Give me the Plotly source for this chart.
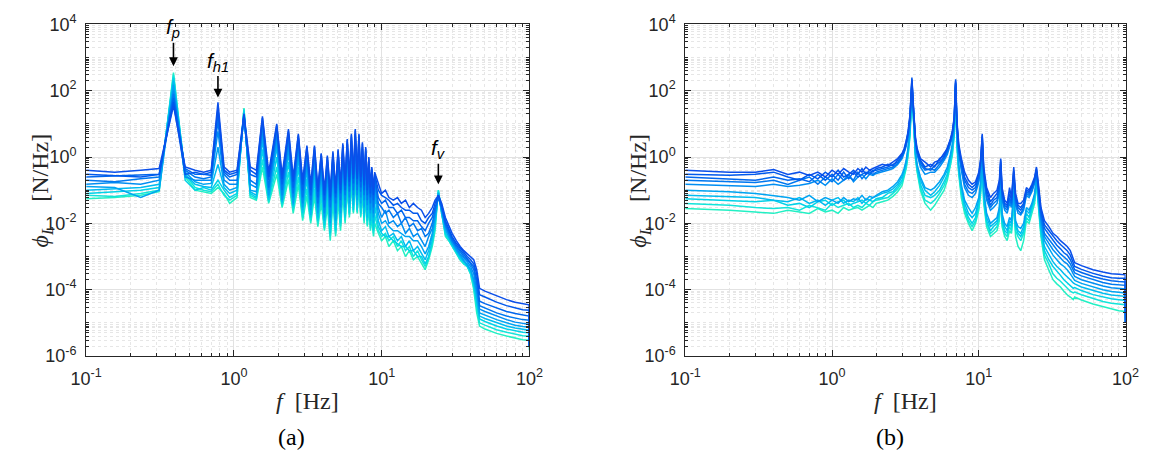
import math
import plotly.graph_objects as go

# ---------------- Panel (a) data ----------------
freq_a = [0.1, 0.156, 0.234, 0.312,
          0.39, 0.468, 0.546, 0.624, 0.702,
          0.78, 0.858, 0.936, 1.05,
          1.17, 1.29, 1.42, 1.56, 1.72, 1.95, 2.12, 2.34, 2.52, 2.73, 2.92, 3.12, 3.31, 3.51, 3.7,
          3.9, 4.1, 4.29, 4.49, 4.68, 4.88, 5.07, 5.27, 5.46, 5.66, 5.85, 6.05, 6.24, 6.44, 6.63,
          6.83, 7.02, 7.22, 7.41, 7.61, 7.8, 8.0, 8.19, 8.4, 8.58, 8.8, 8.97,
          9.5, 10.0, 10.6, 11.2, 12.0, 12.8, 13.6, 14.5, 15.4, 16.4, 17.5, 18.6, 19.7, 20.8, 22.0,
          23.0, 24.2, 25.5, 27.0, 28.5, 30.0, 32.0, 34.0, 36.0, 38.0, 40.0, 42.0, 44.0,
          46.0, 50.0, 60.0, 70.0, 80.0, 90.0, 99.5, 100.0]

psd_a0 = [0.055, 0.06, 0.07, 0.09,
          350, 0.25, 0.1, 0.09, 0.08,
          0.12, 0.08, 0.04, 0.06,
          30, 0.06, 0.05, 0.5, 0.04, 0.3, 0.03, 0.21, 0.02, 0.15, 0.012, 0.066, 0.01, 0.066, 0.008,
          0.04, 0.006, 0.033, 0.003, 0.045, 0.004, 0.05, 0.006, 0.08, 0.01, 0.1, 0.015, 0.15, 0.02,
          0.21, 0.02, 0.15, 0.015, 0.085, 0.01, 0.06, 0.008, 0.03, 0.006, 0.015, 0.004, 0.01,
          0.005, 0.003, 0.004, 0.002, 0.003, 0.0015, 0.002, 0.001, 0.0015, 0.0008, 0.001, 0.0006,
          0.0004, 0.0008, 0.002, 0.006, 0.1, 0.02, 0.004, 0.003, 0.002, 0.0012, 0.0008, 0.0006,
          0.0005, 0.0003, 0.0001, 2e-5,
          8e-6, 6.5e-6, 4.8e-6, 4e-6, 3.4e-6, 3.1e-6, 3e-6, 1.5e-6]
psd_a1 = [0.07, 0.065, 0.08, 0.1,
          300, 0.3, 0.12, 0.1, 0.09,
          0.15, 0.07, 0.05, 0.07,
          28, 0.07, 0.055, 0.85, 0.045, 0.5, 0.035, 0.35, 0.025, 0.25, 0.015, 0.11, 0.012, 0.11, 0.01,
          0.07, 0.007, 0.055, 0.004, 0.075, 0.005, 0.085, 0.008, 0.13, 0.012, 0.18, 0.018, 0.25, 0.022,
          0.35, 0.022, 0.25, 0.017, 0.14, 0.012, 0.1, 0.009, 0.05, 0.007, 0.025, 0.005, 0.018,
          0.006, 0.004, 0.005, 0.003, 0.004, 0.002, 0.003, 0.0015, 0.002, 0.001, 0.0015, 0.0008,
          0.0005, 0.0009, 0.0025, 0.008, 0.1, 0.02, 0.0045, 0.003, 0.002, 0.0013, 0.0008, 0.0006,
          0.0005, 0.0003, 0.00012, 3e-5,
          1e-5, 8.5e-6, 6.2e-6, 5.2e-6, 4.5e-6, 4.1e-6, 4e-6, 2e-6]
psd_a2 = [0.08, 0.09, 0.1, 0.12,
          250, 0.2, 0.1, 0.12, 0.1,
          0.2, 0.1, 0.06, 0.08,
          25, 0.08, 0.06, 1.7, 0.05, 1, 0.04, 0.7, 0.03, 0.5, 0.02, 0.22, 0.015, 0.22, 0.012,
          0.13, 0.009, 0.11, 0.005, 0.15, 0.006, 0.17, 0.01, 0.26, 0.015, 0.35, 0.02, 0.5, 0.025,
          0.7, 0.025, 0.5, 0.02, 0.28, 0.015, 0.2, 0.012, 0.1, 0.009, 0.05, 0.006, 0.035,
          0.008, 0.005, 0.004, 0.004, 0.003, 0.0025, 0.002, 0.002, 0.0015, 0.0015, 0.001, 0.001,
          0.0006, 0.001, 0.003, 0.01, 0.09, 0.022, 0.005, 0.0035, 0.0022, 0.0014, 0.0009, 0.0007,
          0.0005, 0.00035, 0.00015, 4e-5,
          1.3e-5, 1.1e-5, 8e-6, 6.5e-6, 5.7e-6, 5.2e-6, 5e-6, 2e-6]
psd_a3 = [0.1, 0.11, 0.12, 0.15,
          200, 0.3, 0.15, 0.13, 0.12,
          0.6, 0.12, 0.08, 0.1,
          22, 0.09, 0.07, 3.4, 0.06, 2, 0.045, 1.4, 0.035, 1, 0.025, 0.45, 0.018, 0.45, 0.015,
          0.26, 0.012, 0.22, 0.008, 0.3, 0.009, 0.35, 0.015, 0.5, 0.025, 0.7, 0.03, 1, 0.035,
          1.4, 0.035, 1, 0.03, 0.55, 0.02, 0.4, 0.015, 0.2, 0.012, 0.1, 0.01, 0.07,
          0.012, 0.006, 0.008, 0.004, 0.005, 0.003, 0.004, 0.002, 0.003, 0.0015, 0.002, 0.0012,
          0.0008, 0.0015, 0.004, 0.012, 0.08, 0.02, 0.006, 0.004, 0.0025, 0.0015, 0.001, 0.0007,
          0.0006, 0.0004, 0.00018, 5e-5,
          1.6e-5, 1.35e-5, 1e-5, 8e-6, 7e-6, 6.3e-6, 6e-6, 2e-6]
psd_a4 = [0.13, 0.12, 0.06, 0.1,
          150, 0.35, 0.18, 0.15, 0.16,
          2, 0.15, 0.1, 0.12,
          20, 0.1, 0.09, 5, 0.07, 3, 0.05, 2, 0.04, 1.5, 0.03, 0.65, 0.025, 0.65, 0.02,
          0.4, 0.015, 0.33, 0.01, 0.45, 0.012, 0.5, 0.02, 0.8, 0.03, 1, 0.04, 1.5, 0.05,
          2, 0.05, 1.5, 0.04, 0.85, 0.03, 0.6, 0.025, 0.3, 0.02, 0.15, 0.015, 0.1,
          0.02, 0.01, 0.012, 0.008, 0.006, 0.006, 0.005, 0.004, 0.004, 0.003, 0.003, 0.002,
          0.0012, 0.002, 0.005, 0.015, 0.08, 0.025, 0.007, 0.004, 0.0025, 0.0016, 0.0011, 0.0008,
          0.0006, 0.0004, 0.0002, 8e-5,
          2e-5, 1.7e-5, 1.25e-5, 1e-5, 8.5e-6, 7.8e-6, 7.5e-6, 2e-6]
psd_a5 = [0.15, 0.17, 0.15, 0.2,
          100, 0.25, 0.2, 0.2, 0.2,
          6, 0.2, 0.15, 0.15,
          18, 0.15, 0.12, 7.5, 0.1, 4.5, 0.07, 3, 0.06, 2.2, 0.04, 1, 0.035, 1, 0.03,
          0.6, 0.02, 0.5, 0.015, 0.7, 0.02, 0.75, 0.03, 1.2, 0.05, 1.6, 0.06, 2.2, 0.07,
          3, 0.07, 2.2, 0.06, 1.3, 0.05, 0.9, 0.035, 0.45, 0.025, 0.22, 0.02, 0.15,
          0.03, 0.015, 0.025, 0.01, 0.012, 0.008, 0.01, 0.005, 0.007, 0.004, 0.005, 0.003,
          0.002, 0.004, 0.007, 0.02, 0.07, 0.025, 0.008, 0.005, 0.003, 0.0018, 0.0012, 0.0009,
          0.0007, 0.0005, 0.0003, 0.0001,
          2.6e-5, 2.2e-5, 1.6e-5, 1.25e-5, 1.05e-5, 9.5e-6, 9e-6, 2e-6]
psd_a6 = [0.2, 0.18, 0.22, 0.25,
          80, 0.4, 0.25, 0.22, 0.25,
          12, 0.3, 0.2, 0.2,
          17, 0.2, 0.15, 10, 0.12, 6, 0.1, 4, 0.08, 3, 0.06, 1.3, 0.05, 1.3, 0.04,
          0.8, 0.03, 0.65, 0.03, 0.9, 0.04, 1, 0.05, 1.6, 0.07, 2.1, 0.09, 3, 0.1,
          4.2, 0.1, 3, 0.09, 1.7, 0.07, 1.2, 0.05, 0.6, 0.04, 0.3, 0.03, 0.2,
          0.04, 0.03, 0.02, 0.025, 0.015, 0.02, 0.01, 0.015, 0.008, 0.01, 0.006, 0.007,
          0.004, 0.005, 0.01, 0.025, 0.06, 0.03, 0.009, 0.005, 0.003, 0.002, 0.0014, 0.001,
          0.0008, 0.0006, 0.0004, 0.00015,
          3.3e-5, 2.8e-5, 2e-5, 1.6e-5, 1.4e-5, 1.25e-5, 1.2e-5, 2e-6]
psd_a7 = [0.25, 0.27, 0.3, 0.3,
          60, 0.45, 0.3, 0.3, 0.28,
          20, 0.35, 0.25, 0.3,
          16, 0.3, 0.25, 12, 0.2, 7.5, 0.15, 5, 0.12, 3.8, 0.1, 1.6, 0.07, 1.6, 0.06,
          1, 0.05, 0.8, 0.05, 1.1, 0.06, 1.3, 0.08, 2, 0.1, 2.6, 0.13, 3.8, 0.16,
          5, 0.15, 3.8, 0.12, 2, 0.1, 1.5, 0.07, 0.75, 0.06, 0.4, 0.05, 0.25,
          0.06, 0.04, 0.05, 0.03, 0.03, 0.02, 0.025, 0.015, 0.015, 0.012, 0.012, 0.008,
          0.006, 0.01, 0.015, 0.03, 0.06, 0.03, 0.01, 0.006, 0.0035, 0.0022, 0.0016, 0.0012,
          0.0009, 0.0007, 0.0005, 0.0002,
          4.5e-5, 3.8e-5, 2.8e-5, 2.2e-5, 1.9e-5, 1.7e-5, 1.6e-5, 2e-6]
psd_a8 = [0.3, 0.28, 0.25, 0.3,
          45, 0.3, 0.35, 0.3, 0.35,
          30, 0.4, 0.3, 0.35,
          18, 0.4, 0.3, 15, 0.25, 9, 0.22, 6, 0.18, 4.5, 0.15, 2, 0.1, 2, 0.09,
          1.2, 0.07, 1, 0.06, 1.3, 0.08, 1.5, 0.1, 2.3, 0.14, 3.2, 0.18, 4.5, 0.22,
          6.3, 0.22, 4.5, 0.18, 2.5, 0.14, 1.8, 0.1, 0.9, 0.08, 0.45, 0.07, 0.3,
          0.1, 0.07, 0.06, 0.05, 0.035, 0.04, 0.03, 0.025, 0.025, 0.02, 0.02, 0.012,
          0.01, 0.015, 0.02, 0.04, 0.07, 0.035, 0.012, 0.007, 0.004, 0.0025, 0.0018, 0.0013,
          0.001, 0.0008, 0.0006, 0.0003,
          7e-5, 6e-5, 4.2e-5, 3.3e-5, 2.8e-5, 2.5e-5, 2.4e-5, 2e-6]
psd_a9 = [0.4, 0.35, 0.4, 0.45,
          35, 0.5, 0.4, 0.35, 0.4,
          45, 0.5, 0.35, 0.4,
          20, 0.5, 0.4, 17, 0.35, 10, 0.3, 7, 0.25, 5, 0.2, 2.2, 0.15, 2.2, 0.12,
          1.3, 0.1, 1.1, 0.1, 1.5, 0.12, 1.7, 0.15, 2.6, 0.2, 3.5, 0.25, 5, 0.3,
          7, 0.3, 5, 0.25, 2.8, 0.2, 2, 0.15, 1, 0.12, 0.5, 0.1, 0.35,
          0.15, 0.08, 0.1, 0.06, 0.05, 0.06, 0.04, 0.05, 0.03, 0.04, 0.03, 0.025,
          0.015, 0.02, 0.03, 0.05, 0.07, 0.04, 0.015, 0.008, 0.005, 0.003, 0.002, 0.0015,
          0.0012, 0.001, 0.0008, 0.0004,
          1.1e-4, 9e-5, 6.5e-5, 5e-5, 4.2e-5, 3.8e-5, 3.5e-5, 2e-6]

# ---------------- Panel (b) data ----------------
freq_b = [0.1, 0.2, 0.3, 0.4, 0.5, 0.6, 0.7, 0.8, 0.9, 1.0, 1.1, 1.2, 1.3, 1.4, 1.5, 1.6, 1.7, 1.8, 1.9, 2.0,
          2.2, 2.4, 2.6, 2.8, 3.0,
          3.1, 3.2, 3.3, 3.4, 3.5, 3.6, 3.7, 3.8,
          4.0, 4.3, 4.7, 5.0, 5.4, 5.8, 6.1, 6.4, 6.6, 6.8,
          6.95,
          7.1, 7.3, 7.6, 8.0, 8.5, 9.0, 9.5, 10.0, 10.3,
          10.55,
          10.8, 11.3, 12.0, 12.6, 13.3, 13.8,
          14.1,
          14.4, 15.0, 15.6, 16.2, 16.7,
          17.3,
          17.8, 18.5, 19.3, 20.2,
          21.1,
          22.0, 23.0, 24.0,
          24.7,
          25.5, 26.5, 28.0, 30.0, 32.0, 34.0, 36.0, 38.0, 40.0, 42.0, 44.0,
          45.0, 50.0, 60.0, 70.0, 80.0, 90.0, 99.5, 100.0]

psd_b0 = [0.028, 0.025, 0.022, 0.02, 0.025, 0.022, 0.02, 0.028, 0.022, 0.025, 0.02, 0.03, 0.025, 0.028, 0.03, 0.025, 0.03, 0.035, 0.03, 0.04,
          0.045, 0.05, 0.065, 0.09, 0.14,
          0.25, 0.45, 1.1, 4.5, 110, 6, 0.9, 0.35,
          0.1, 0.04, 0.025, 0.035, 0.06, 0.1, 0.2, 0.5, 1.1, 4.5,
          110,
          2, 0.3, 0.06, 0.02, 0.01, 0.006, 0.01, 0.025, 0.08,
          0.6,
          0.04, 0.008, 0.004, 0.005, 0.006, 0.012,
          0.08,
          0.008, 0.004, 0.003, 0.006, 0.005,
          0.04,
          0.004, 0.002, 0.0015, 0.003,
          0.012,
          0.01, 0.02, 0.04,
          0.16,
          0.03, 0.004, 0.0008, 0.0004, 0.0002, 0.00015, 0.00012, 9e-5, 7e-5, 6e-5, 5e-5,
          6e-5, 4.9e-5, 3.7e-5, 3.1e-5, 2.6e-5, 2.3e-5, 2.2e-5, 1e-5]
psd_b1 = [0.04, 0.035, 0.03, 0.028, 0.03, 0.025, 0.035, 0.03, 0.025, 0.04, 0.03, 0.035, 0.04, 0.03, 0.035, 0.03, 0.04, 0.035, 0.045, 0.05,
          0.055, 0.06, 0.08, 0.11, 0.17,
          0.3, 0.5, 1.3, 5, 120, 7, 1, 0.4,
          0.12, 0.05, 0.04, 0.05, 0.08, 0.14, 0.25, 0.6, 1.3, 5,
          120,
          2.5, 0.35, 0.08, 0.025, 0.012, 0.008, 0.012, 0.03, 0.1,
          0.8,
          0.05, 0.01, 0.005, 0.006, 0.008, 0.015,
          0.1,
          0.01, 0.005, 0.004, 0.008, 0.006,
          0.05,
          0.006, 0.004, 0.003, 0.005,
          0.015,
          0.012, 0.025, 0.05,
          0.18,
          0.035, 0.005, 0.0011, 0.0006, 0.0003, 0.00022, 0.00018, 0.00014, 0.00011, 9e-5, 8e-5,
          8.5e-5, 7e-5, 5.3e-5, 4.4e-5, 3.9e-5, 3.7e-5, 3.5e-5, 1e-5]
psd_b2 = [0.055, 0.05, 0.045, 0.05, 0.035, 0.04, 0.03, 0.045, 0.05, 0.035, 0.045, 0.05, 0.035, 0.04, 0.045, 0.05, 0.04, 0.05, 0.045, 0.055,
          0.06, 0.08, 0.09, 0.13, 0.2,
          0.35, 0.6, 1.5, 6, 130, 8, 1.2, 0.45,
          0.15, 0.07, 0.06, 0.07, 0.1, 0.18, 0.3, 0.8, 1.6, 6,
          130,
          3, 0.4, 0.1, 0.03, 0.015, 0.01, 0.015, 0.04, 0.12,
          1,
          0.06, 0.012, 0.006, 0.008, 0.01, 0.02,
          0.12,
          0.012, 0.006, 0.005, 0.01, 0.008,
          0.06,
          0.008, 0.005, 0.004, 0.006,
          0.02,
          0.015, 0.03, 0.06,
          0.2,
          0.045, 0.006, 0.0015, 0.0008, 0.0005, 0.00035, 0.00027, 0.0002, 0.00016, 0.00013, 0.00011,
          1.15e-4, 9.4e-5, 7.1e-5, 6e-5, 5.3e-5, 5e-5, 4.8e-5, 1e-5]
psd_b3 = [0.07, 0.065, 0.06, 0.05, 0.045, 0.06, 0.04, 0.05, 0.035, 0.05, 0.06, 0.04, 0.05, 0.045, 0.06, 0.04, 0.055, 0.05, 0.06, 0.065,
          0.08, 0.09, 0.11, 0.15, 0.25,
          0.4, 0.7, 1.8, 7, 140, 9, 1.3, 0.5,
          0.2, 0.1, 0.07, 0.09, 0.14, 0.25, 0.4, 1, 2, 7,
          140,
          3.5, 0.5, 0.12, 0.04, 0.02, 0.015, 0.02, 0.05, 0.15,
          1.2,
          0.08, 0.015, 0.008, 0.01, 0.012, 0.025,
          0.15,
          0.015, 0.008, 0.006, 0.012, 0.01,
          0.08,
          0.01, 0.006, 0.005, 0.008,
          0.025,
          0.02, 0.035, 0.07,
          0.22,
          0.05, 0.008, 0.002, 0.0012, 0.0007, 0.0005, 0.0004, 0.0003, 0.00025, 0.0002, 0.00016,
          1.5e-4, 1.2e-4, 9.3e-5, 7.8e-5, 6.9e-5, 6.5e-5, 6.3e-5, 1e-5]
psd_b4 = [0.1, 0.09, 0.08, 0.07, 0.06, 0.05, 0.07, 0.045, 0.06, 0.05, 0.04, 0.06, 0.045, 0.055, 0.05, 0.07, 0.05, 0.065, 0.06, 0.07,
          0.09, 0.1, 0.13, 0.18, 0.3,
          0.45, 0.8, 2, 8, 150, 10, 1.5, 0.6,
          0.25, 0.12, 0.1, 0.12, 0.18, 0.3, 0.5, 1.2, 2.5, 8,
          150,
          4, 0.6, 0.15, 0.05, 0.03, 0.02, 0.03, 0.06, 0.2,
          1.5,
          0.1, 0.02, 0.01, 0.012, 0.015, 0.03,
          0.2,
          0.02, 0.01, 0.008, 0.015, 0.012,
          0.1,
          0.012, 0.008, 0.007, 0.01,
          0.03,
          0.025, 0.04, 0.08,
          0.25,
          0.06, 0.01, 0.003, 0.0018, 0.0011, 0.0008, 0.0006, 0.0005, 0.0004, 0.0003, 0.00022,
          1.9e-4, 1.55e-4, 1.2e-4, 1e-4, 8.8e-5, 8.2e-5, 8e-5, 1e-5]
psd_b5 = [0.15, 0.14, 0.13, 0.15, 0.13, 0.14, 0.16, 0.2, 0.14, 0.22, 0.15, 0.2, 0.3, 0.18, 0.25, 0.3, 0.22, 0.3, 0.28, 0.32,
          0.35, 0.4, 0.45, 0.6, 0.9,
          1.3, 2.1, 4, 14, 160, 16, 2.8, 1.2,
          0.5, 0.3, 0.35, 0.35, 0.5, 0.8, 1.2, 2.4, 4, 12,
          160,
          7, 1.3, 0.4, 0.12, 0.07, 0.06, 0.08, 0.18, 0.5,
          3,
          0.25, 0.05, 0.025, 0.03, 0.04, 0.08,
          0.5,
          0.05, 0.025, 0.02, 0.04, 0.03,
          0.25,
          0.035, 0.02, 0.018, 0.025,
          0.07,
          0.06, 0.09, 0.16,
          0.3,
          0.08, 0.013, 0.004, 0.0025, 0.0016, 0.0012, 0.0009, 0.0007, 0.0006, 0.00045, 0.0003,
          2.5e-4, 2e-4, 1.55e-4, 1.3e-4, 1.15e-4, 1.08e-4, 1.05e-4, 1e-5]
psd_b6 = [0.2, 0.18, 0.17, 0.2, 0.15, 0.2, 0.25, 0.15, 0.25, 0.18, 0.3, 0.2, 0.25, 0.2, 0.35, 0.22, 0.3, 0.35, 0.3, 0.35,
          0.4, 0.45, 0.5, 0.65, 1,
          1.4, 2.3, 4.5, 15, 180, 18, 3, 1.3,
          0.6, 0.4, 0.45, 0.4, 0.6, 0.9, 1.4, 2.7, 4.5, 13,
          170,
          8, 1.5, 0.5, 0.15, 0.09, 0.08, 0.1, 0.2, 0.6,
          3.5,
          0.3, 0.06, 0.03, 0.04, 0.05, 0.1,
          0.6,
          0.06, 0.03, 0.025, 0.05, 0.035,
          0.3,
          0.04, 0.025, 0.02, 0.03,
          0.08,
          0.07, 0.1, 0.18,
          0.35,
          0.09, 0.016, 0.005, 0.0033, 0.0022, 0.0016, 0.0012, 0.001, 0.0008, 0.0006, 0.0004,
          3.2e-4, 2.6e-4, 2e-4, 1.65e-4, 1.45e-4, 1.4e-4, 1.35e-4, 1e-5]
psd_b7 = [0.25, 0.22, 0.2, 0.25, 0.2, 0.22, 0.18, 0.3, 0.2, 0.3, 0.2, 0.35, 0.22, 0.35, 0.25, 0.3, 0.35, 0.3, 0.4, 0.4,
          0.45, 0.5, 0.6, 0.7, 1.1,
          1.5, 2.5, 5, 16, 200, 20, 3.2, 1.4,
          0.7, 0.45, 0.4, 0.55, 0.7, 1, 1.6, 3, 5, 14,
          180,
          9, 1.8, 0.6, 0.2, 0.12, 0.1, 0.12, 0.25, 0.7,
          4,
          0.35, 0.08, 0.035, 0.05, 0.06, 0.12,
          0.7,
          0.08, 0.035, 0.03, 0.06, 0.04,
          0.35,
          0.05, 0.03, 0.025, 0.035,
          0.09,
          0.08, 0.12, 0.2,
          0.4,
          0.1, 0.02, 0.007, 0.0045, 0.003, 0.0022, 0.0017, 0.0013, 0.0011, 0.0008, 0.0005,
          4e-4, 3.3e-4, 2.5e-4, 2.1e-4, 1.85e-4, 1.75e-4, 1.7e-4, 1e-5]
psd_b8 = [0.3, 0.28, 0.3, 0.35, 0.25, 0.2, 0.3, 0.22, 0.35, 0.25, 0.4, 0.25, 0.3, 0.4, 0.3, 0.45, 0.3, 0.4, 0.35, 0.45,
          0.5, 0.6, 0.55, 0.8, 1.2,
          1.6, 2.8, 5.5, 18, 250, 22, 3.5, 1.6,
          0.8, 0.5, 0.6, 0.5, 0.9, 1.1, 2, 3.2, 5.5, 15,
          220,
          10, 2, 0.7, 0.25, 0.15, 0.12, 0.15, 0.3, 0.8,
          4.5,
          0.4, 0.1, 0.045, 0.06, 0.08, 0.15,
          0.8,
          0.1, 0.04, 0.035, 0.08, 0.05,
          0.4,
          0.06, 0.035, 0.03, 0.04,
          0.1,
          0.09, 0.13, 0.22,
          0.45,
          0.12, 0.025, 0.009, 0.006, 0.004, 0.003, 0.0023, 0.0018, 0.0015, 0.0011, 0.0007,
          5e-4, 4.1e-4, 3.1e-4, 2.6e-4, 2.3e-4, 2.2e-4, 2.2e-4, 1e-5]
psd_b9 = [0.4, 0.35, 0.35, 0.42, 0.3, 0.35, 0.28, 0.35, 0.25, 0.4, 0.3, 0.45, 0.35, 0.3, 0.45, 0.35, 0.5, 0.4, 0.45, 0.5,
          0.6, 0.55, 0.7, 0.9, 1.3,
          1.8, 3, 6, 20, 220, 25, 4, 1.8,
          0.9, 0.7, 0.5, 0.7, 0.8, 1.3, 1.8, 3.5, 6, 16,
          200,
          12, 2.5, 0.9, 0.35, 0.2, 0.15, 0.18, 0.35, 0.9,
          5,
          0.5, 0.12, 0.06, 0.08, 0.1, 0.2,
          0.9,
          0.12, 0.05, 0.04, 0.12, 0.06,
          0.5,
          0.08, 0.04, 0.04, 0.05,
          0.12,
          0.1, 0.15, 0.25,
          0.5,
          0.15, 0.03, 0.012, 0.008, 0.005, 0.004, 0.003, 0.0025, 0.002, 0.0015, 0.0009,
          6.5e-4, 5.3e-4, 4e-4, 3.4e-4, 3e-4, 2.9e-4, 2.8e-4, 1e-5]

# ---------------- Tick labels & annotations ----------------
x_tick_vals = [0.1, 1, 10, 100]
x_tick_text = ['10<sup>-1</sup>', '10<sup>0</sup>', '10<sup>1</sup>', '10<sup>2</sup>']
y_tick_vals = [1e-6, 1e-4, 1e-2, 1, 1e2, 1e4]
y_tick_text = ['10<sup>-6</sup>', '10<sup>-4</sup>', '10<sup>-2</sup>', '10<sup>0</sup>',
               '10<sup>2</sup>', '10<sup>4</sup>']
peak_labels = ['<i>f</i><sub><i>p</i></sub>', '<i>f</i><sub><i>h1</i></sub>', '<i>f</i><sub><i>v</i></sub>']
peak_freqs = [0.39, 0.78, 24.2]
peak_tips = [550, 62, 0.15]

lines_a = [psd_a0, psd_a1, psd_a2, psd_a3, psd_a4, psd_a5, psd_a6, psd_a7, psd_a8, psd_a9]
lines_b = [psd_b0, psd_b1, psd_b2, psd_b3, psd_b4, psd_b5, psd_b6, psd_b7, psd_b8, psd_b9]
for i, l in enumerate(lines_a):
    assert len(l) == len(freq_a), ('a', i, len(l), len(freq_a))
for i, l in enumerate(lines_b):
    assert len(l) == len(freq_b), ('b', i, len(l), len(freq_b))

colors = ['#22F0C4', '#12E4DA', '#02D2E8', '#00BCF0', '#00A4F2',
          '#008EF2', '#0078F0', '#0066EE', '#0058EC', '#0A4FEA']

fig = go.Figure()
for i, l in enumerate(lines_a):
    fig.add_trace(go.Scatter(x=freq_a, y=l, mode='lines', xaxis='x', yaxis='y',
                             line=dict(color=colors[i], width=1.5), showlegend=False))
for i, l in enumerate(lines_b):
    fig.add_trace(go.Scatter(x=freq_b, y=l, mode='lines', xaxis='x2', yaxis='y2',
                             line=dict(color=colors[i], width=1.5), showlegend=False))

tick_font = dict(family='Liberation Sans, Arial, sans-serif', size=18, color='#262626')
minor = dict(ticks='inside', ticklen=3, tickcolor='#262626', showgrid=True,
             gridcolor='#e6e6e6', griddash='dot', gridwidth=1, dtick='D1')
common = dict(type='log', showline=True, linecolor='#262626', linewidth=1, mirror='allticks',
              ticks='inside', ticklen=6, tickcolor='#262626', tickwidth=1,
              showgrid=True, gridcolor='#e2e2e2', gridwidth=1, zeroline=False,
              tickfont=tick_font, minor=minor, tickmode='array')

xa = dict(common, range=[-1, 2], tickvals=x_tick_vals, ticktext=x_tick_text, ticklabelstandoff=6)
ya = dict(common, range=[-6, 4], tickvals=y_tick_vals, ticktext=y_tick_text, ticklabelstandoff=5)

fig.update_layout(
    width=1162, height=467, autosize=False,
    margin=dict(l=0, r=0, t=0, b=0),
    paper_bgcolor='white', plot_bgcolor='white',
    xaxis=dict(xa, domain=[72 / 1162, 527 / 1162], anchor='y'),
    yaxis=dict(ya, domain=[1 - 361 / 467, 1 - 13 / 467], anchor='x'),
    xaxis2=dict(xa, domain=[687 / 1162, 1139 / 1162], anchor='y2'),
    yaxis2=dict(ya, domain=[1 - 361 / 467, 1 - 13 / 467], anchor='x2'),
)

serif = dict(family='Liberation Serif, Times New Roman, serif', size=24, color='#262626')
xlabel = '<i>f</i>\u2002[Hz]'
ylabel = '<i>\u03d5</i><sub><i>L</i></sub>\u2002\u2002[N/Hz]'
ycen = 1 - 187 / 467
for xc, ylx, cap, capx in [((72 + 527) / 2, 27, '(a)', 283), ((687 + 1139) / 2, 641, '(b)', 897)]:
    fig.add_annotation(text=xlabel, xref='paper', yref='paper', x=xc / 1162, y=1 - 408 / 467,
                       showarrow=False, font=serif, xanchor='center', yanchor='middle')
    fig.add_annotation(text=ylabel, xref='paper', yref='paper', x=ylx / 1162, y=ycen,
                       showarrow=False, font=serif, textangle=-90, xanchor='center', yanchor='middle')
    fig.add_annotation(text=cap, xref='paper', yref='paper', x=capx / 1162, y=1 - 446 / 467,
                       showarrow=False, font=dict(serif, color='black'), xanchor='center', yanchor='middle')

for lab, fx, tip, ay in zip(peak_labels, peak_freqs, peak_tips, [-38, -36, -35]):
    fig.add_annotation(text=lab, xref='x', yref='y', x=math.log10(fx), y=math.log10(tip),
                       showarrow=True, arrowhead=2, arrowsize=1.1, arrowwidth=1.6, arrowcolor='black',
                       ax=0, ay=ay, standoff=0,
                       font=dict(family='Liberation Sans, Arial, sans-serif', size=21, color='black'))

fig.write_html('out.html')
